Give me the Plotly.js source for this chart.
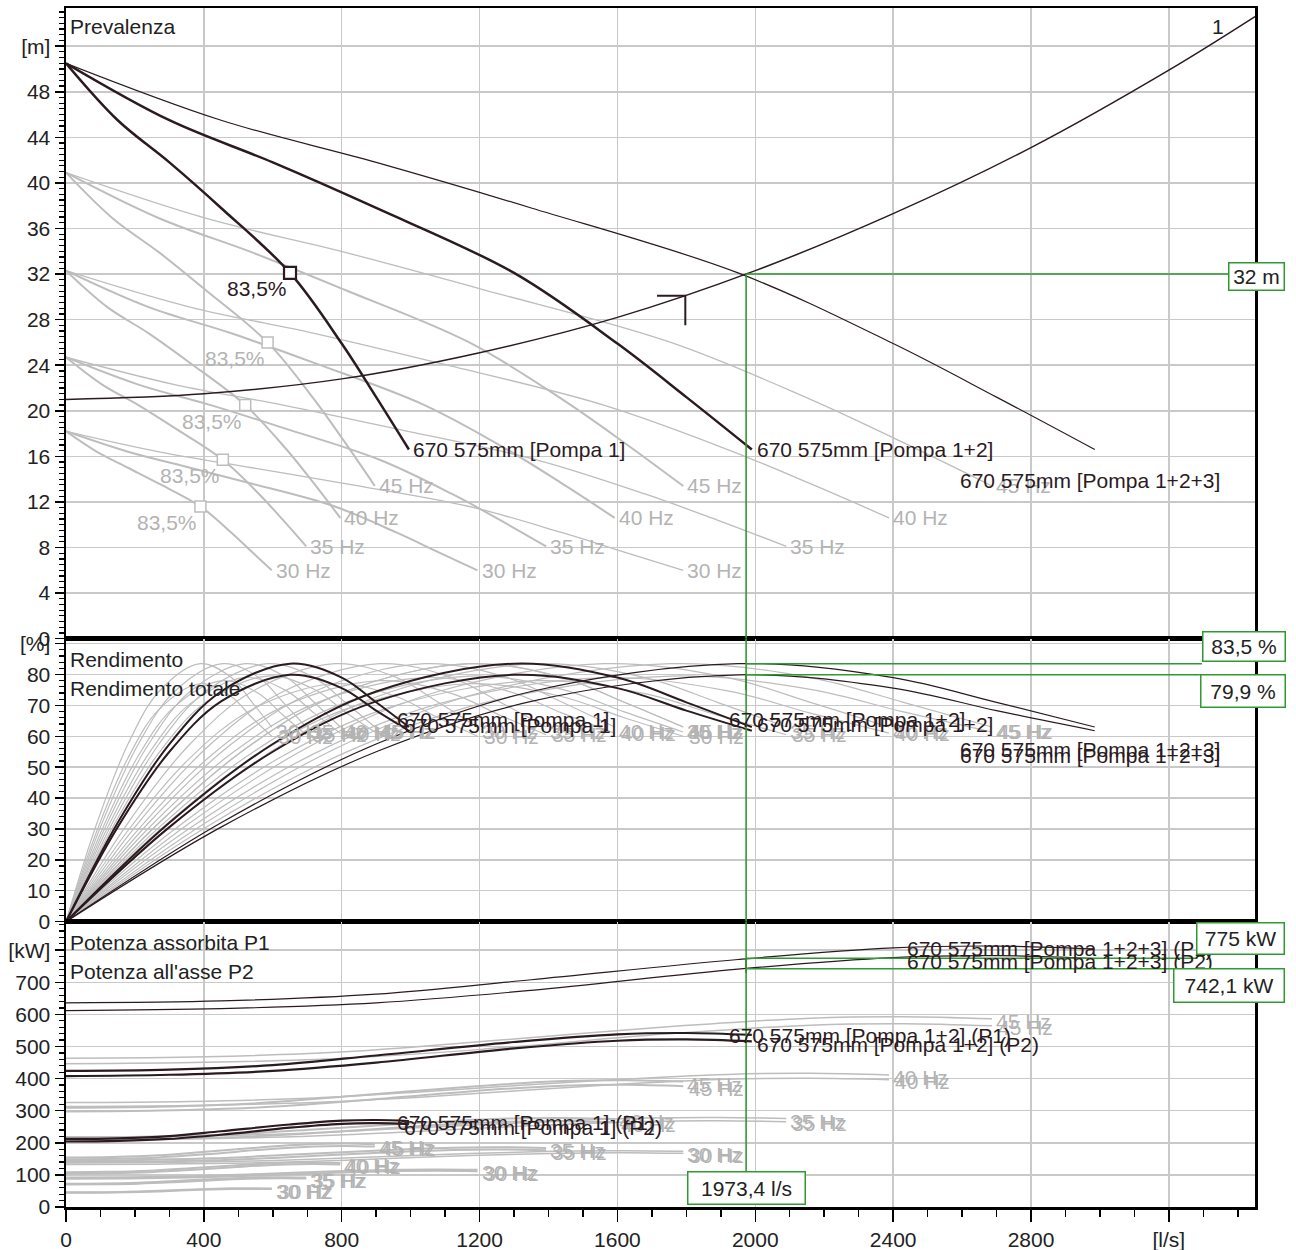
<!DOCTYPE html>
<html><head><meta charset="utf-8">
<script src="https://cdn.plot.ly/plotly-3.0.1.min.js"></script>
<style>body{margin:0;background:#fff}#chart{width:1296px;height:1250px}</style>
</head><body><div id="chart"></div>
<script>
// ---- Flow (l/s) for each configuration: pumps in parallel x speed ----
const Q_1p30 = [0, 90, 180, 270, 390, 480, 540, 597];
const Q_1p35 = [0, 105, 210, 315, 455, 560, 630, 697];
const Q_1p40 = [0, 120, 240, 360, 520, 640, 720, 796];
const Q_1p45 = [0, 135, 270, 405, 585, 720, 810, 896];
const Q_1p50 = [0, 150, 300, 450, 650, 800, 900, 995];
const Q_2p30 = [0, 180, 360, 540, 780, 960, 1080, 1194];
const Q_2p35 = [0, 210, 420, 630, 910, 1120, 1260, 1393];
const Q_2p40 = [0, 240, 480, 720, 1040, 1280, 1440, 1592];
const Q_2p45 = [0, 270, 540, 810, 1170, 1440, 1620, 1791];
const Q_2p50 = [0, 300, 600, 900, 1300, 1600, 1800, 1990];
const Q_3p30 = [0, 270, 540, 810, 1170, 1440, 1620, 1791];
const Q_3p35 = [0, 315, 630, 945, 1365, 1680, 1890, 2090];
const Q_3p40 = [0, 360, 720, 1080, 1560, 1920, 2160, 2388];
const Q_3p45 = [0, 405, 810, 1215, 1755, 2160, 2430, 2687];
const Q_3p50 = [0, 450, 900, 1350, 1950, 2400, 2700, 2985];

// ---- Prevalenza (m) ----
const H_30 = [18.2, 16.4, 15.0, 13.6, 11.6, 9.3, 7.6, 6.0];
const H_35 = [24.7, 22.3, 20.5, 18.5, 15.7, 12.7, 10.4, 8.1];
const H_40 = [32.3, 29.1, 26.8, 24.2, 20.5, 16.6, 13.6, 10.6];
const H_45 = [40.9, 36.9, 33.9, 30.6, 26.0, 21.0, 17.2, 13.4];
const H_50 = [50.5, 45.5, 41.8, 37.8, 32.1, 25.9, 21.2, 16.6];
// system curve "1"
const Q_sys = [0, 400, 800, 1200, 1600, 2000, 2400, 2800, 3200, 3450];
const H_sys = [21.0, 21.5, 22.8, 25.1, 28.2, 32.3, 37.3, 43.1, 49.9, 54.6];
// duty marker
const Q_mark = [1715, 1797, 1797];
const H_mark = [30.1, 30.1, 27.5];

// ---- Rendimento (%) ----
const ETA_pump = [0, 32, 57.5, 74.5, 83.5, 79, 71, 63];
const ETA_tot30 = [0, 29.5, 53.0, 68.7, 77.0, 72.8, 66.0, 60.0];
const ETA_tot35 = [0, 29.9, 53.7, 69.6, 78.0, 73.8, 66.8, 60.5];
const ETA_tot40 = [0, 30.3, 54.4, 70.5, 79.0, 74.7, 67.5, 61.0];
const ETA_tot45 = [0, 30.5, 54.7, 70.9, 79.5, 75.2, 67.9, 61.4];
const ETA_tot50 = [0, 30.6, 55.0, 71.3, 79.9, 75.6, 68.3, 61.8];

// ---- Potenza assorbita P1 (kW) ----
const P1_1p30 = [45.8, 46.2, 47.7, 51.0, 55.5, 58.1, 58.5, 57.9];
const P1_1p35 = [72.7, 73.4, 75.8, 80.9, 88.2, 92.3, 93.0, 91.9];
const P1_1p40 = [108.5, 109.6, 113.2, 120.8, 131.6, 137.7, 138.8, 137.2];
const P1_1p45 = [154.5, 156.0, 161.1, 172.0, 187.4, 196.1, 197.6, 195.4];
const P1_1p50 = [212, 214, 221, 236, 257, 269, 271, 268];
const P1_2p30 = [91.6, 92.4, 95.4, 102.0, 111.0, 116.2, 117.0, 115.8];
const P1_2p35 = [145.4, 146.8, 151.6, 161.8, 176.4, 184.6, 186.0, 183.8];
const P1_2p40 = [217.0, 219.2, 226.4, 241.6, 263.2, 275.4, 277.6, 274.4];
const P1_2p45 = [309.0, 312.0, 322.2, 344.0, 374.8, 392.2, 395.2, 390.8];
const P1_2p50 = [424, 428, 442, 472, 514, 538, 542, 536];
const P1_3p30 = [137.4, 138.6, 143.1, 153.0, 166.5, 174.3, 175.5, 173.7];
const P1_3p35 = [218.1, 220.2, 227.4, 242.7, 264.6, 276.9, 279.0, 275.7];
const P1_3p40 = [325.5, 328.8, 339.6, 362.4, 394.8, 413.1, 416.4, 411.6];
const P1_3p45 = [463.5, 468.0, 483.3, 516.0, 562.2, 588.3, 592.8, 586.2];
const P1_3p50 = [636, 642, 663, 708, 771, 807, 813, 804];
// ---- Potenza all'asse P2 (kW) ----
const P2_1p30 = [44.1, 44.5, 45.8, 48.6, 53.4, 55.9, 56.4, 55.7];
const P2_1p35 = [70.0, 70.7, 72.7, 77.2, 84.7, 88.8, 89.5, 88.5];
const P2_1p40 = [104.4, 105.5, 108.5, 115.2, 126.5, 132.6, 133.6, 132.1];
const P2_1p45 = [148.7, 150.2, 154.5, 164.0, 180.1, 188.8, 190.3, 188.1];
const P2_1p50 = [204, 206, 212, 225, 247, 259, 261, 258];
const P2_2p30 = [88.2, 89.0, 91.6, 97.2, 106.8, 111.8, 112.8, 111.4];
const P2_2p35 = [140.0, 141.4, 145.4, 154.4, 169.4, 177.6, 179.0, 177.0];
const P2_2p40 = [208.8, 211.0, 217.0, 230.4, 253.0, 265.2, 267.2, 264.2];
const P2_2p45 = [297.4, 300.4, 309.0, 328.0, 360.2, 377.6, 380.6, 376.2];
const P2_2p50 = [408, 412, 424, 450, 494, 518, 522, 516];
const P2_3p30 = [132.3, 133.5, 137.4, 145.8, 160.2, 167.7, 169.2, 167.1];
const P2_3p35 = [210.0, 212.1, 218.1, 231.6, 254.1, 266.4, 268.5, 265.5];
const P2_3p40 = [313.2, 316.5, 325.5, 345.6, 379.5, 397.8, 400.8, 396.3];
const P2_3p45 = [446.1, 450.6, 463.5, 492.0, 540.3, 566.4, 570.9, 564.3];
const P2_3p50 = [612, 618, 636, 675, 741, 777, 783, 774];

// ---- operating point ----
const OP_Q = 1973.4, OP_H = 32, OP_ETA = 83.5, OP_ETA_TOT = 79.9, OP_P1 = 775, OP_P2 = 742.1;

const FONT = '"Liberation Sans", Arial, sans-serif';
const DARK = '#2b1b1f', GREY = '#bdbdbd', GREYTXT = '#b3b3b3', GREEN = '#2f9a2f', GRID = '#c9c9c9';

const grey = [
  {n:1, hz:'30 Hz', q:Q_1p30, h:H_30, tot:ETA_tot30, p1:P1_1p30, p2:P2_1p30},
  {n:1, hz:'35 Hz', q:Q_1p35, h:H_35, tot:ETA_tot35, p1:P1_1p35, p2:P2_1p35},
  {n:1, hz:'40 Hz', q:Q_1p40, h:H_40, tot:ETA_tot40, p1:P1_1p40, p2:P2_1p40},
  {n:1, hz:'45 Hz', q:Q_1p45, h:H_45, tot:ETA_tot45, p1:P1_1p45, p2:P2_1p45},
  {n:2, hz:'30 Hz', q:Q_2p30, h:H_30, tot:ETA_tot30, p1:P1_2p30, p2:P2_2p30},
  {n:2, hz:'35 Hz', q:Q_2p35, h:H_35, tot:ETA_tot35, p1:P1_2p35, p2:P2_2p35},
  {n:2, hz:'40 Hz', q:Q_2p40, h:H_40, tot:ETA_tot40, p1:P1_2p40, p2:P2_2p40},
  {n:2, hz:'45 Hz', q:Q_2p45, h:H_45, tot:ETA_tot45, p1:P1_2p45, p2:P2_2p45},
  {n:3, hz:'30 Hz', q:Q_3p30, h:H_30, tot:ETA_tot30, p1:P1_3p30, p2:P2_3p30},
  {n:3, hz:'35 Hz', q:Q_3p35, h:H_35, tot:ETA_tot35, p1:P1_3p35, p2:P2_3p35},
  {n:3, hz:'40 Hz', q:Q_3p40, h:H_40, tot:ETA_tot40, p1:P1_3p40, p2:P2_3p40},
  {n:3, hz:'45 Hz', q:Q_3p45, h:H_45, tot:ETA_tot45, p1:P1_3p45, p2:P2_3p45}
];
const dark = [
  {n:1, name:'670 575mm [Pompa 1]', q:Q_1p50, h:H_50, tot:ETA_tot50, p1:P1_1p50, p2:P2_1p50},
  {n:2, name:'670 575mm [Pompa 1+2]', q:Q_2p50, h:H_50, tot:ETA_tot50, p1:P1_2p50, p2:P2_2p50},
  {n:3, name:'670 575mm [Pompa 1+2+3]', q:Q_3p50, h:H_50, tot:ETA_tot50, p1:P1_3p50, p2:P2_3p50}
];

function ln(x, y, xa, ya, color, width, shape) {
  return {x, y, xaxis: xa, yaxis: ya, type: 'scatter', mode: 'lines', hoverinfo: 'skip',
    line: {color, width, shape: shape || 'spline', smoothing: 1}};
}
const last = a => a[a.length - 1];
const traces = [];
const ann = [];
function lab(text, x, y, xr, yr, color, opt) {
  ann.push(Object.assign({text, x, y, xref: xr, yref: yr, showarrow: false, xanchor: 'left', yanchor: 'middle',
    font: {family: FONT, size: 21, color}}, opt || {}));
}

// grey curves
grey.forEach(c => {
  const w = c.n < 3 ? 2 : 1.3;
  traces.push(ln(c.q, c.h, 'x', 'y', GREY, w));
  traces.push(ln(c.q, ETA_pump, 'x2', 'y2', GREY, 1.2));
  traces.push(ln(c.q, c.tot, 'x2', 'y2', GREY, 1.2));
  traces.push(ln(c.q, c.p1, 'x3', 'y3', GREY, c.n < 3 ? 2 : 1.5));
  traces.push(ln(c.q, c.p2, 'x3', 'y3', GREY, c.n < 3 ? 2 : 1.5));
  lab(c.hz, last(c.q), last(c.h), 'x', 'y', GREYTXT, {xshift: 2});
  lab(c.hz, last(c.q), last(ETA_pump), 'x2', 'y2', GREYTXT, {xshift: 2, yshift: -4});
  lab(c.hz, last(c.q), last(c.tot), 'x2', 'y2', GREYTXT, {xshift: 4});
  lab(c.hz, last(c.q), last(c.p1), 'x3', 'y3', GREYTXT, {xshift: 2, yshift: -3});
  lab(c.hz, last(c.q), last(c.p2), 'x3', 'y3', GREYTXT, {xshift: 4, yshift: -2});
});
// BEP squares (single pump at each speed)
grey.filter(c => c.n === 1).forEach(c => {
  traces.push({x: [c.q[4]], y: [c.h[4]], xaxis: 'x', yaxis: 'y', type: 'scatter', mode: 'markers', hoverinfo: 'skip',
    marker: {symbol: 'square', size: 11, color: '#fff', line: {color: GREY, width: 1.5}}});
  lab('83,5%', c.q[4], c.h[4], 'x', 'y', GREYTXT, {xanchor: 'right', xshift: -1, yshift: -16});
});

// dark curves
dark.forEach(c => {
  const w = c.n < 3 ? 2.5 : 1.2;
  traces.push(ln(c.q, c.h, 'x', 'y', DARK, w));
  traces.push(ln(c.q, ETA_pump, 'x2', 'y2', DARK, c.n < 3 ? 2 : 1.2));
  traces.push(ln(c.q, c.tot, 'x2', 'y2', DARK, c.n < 3 ? 2 : 1.2));
  traces.push(ln(c.q, c.p1, 'x3', 'y3', DARK, c.n < 3 ? 2.2 : 1.2));
  traces.push(ln(c.q, c.p2, 'x3', 'y3', DARK, c.n < 3 ? 2.2 : 1.2));
});
traces.push({x: [Q_1p50[4]], y: [H_50[4]], xaxis: 'x', yaxis: 'y', type: 'scatter', mode: 'markers', hoverinfo: 'skip',
  marker: {symbol: 'square', size: 12, color: '#fff', line: {color: DARK, width: 2.2}}});
lab('83,5%', Q_1p50[4], H_50[4], 'x', 'y', DARK, {xanchor: 'right', xshift: -1, yshift: -16});

// system curve and marker
traces.push(ln(Q_sys, H_sys, 'x', 'y', DARK, 1.5));
traces.push(ln(Q_mark, H_mark, 'x', 'y', DARK, 2, 'linear'));
traces.push(ln([OP_Q, OP_Q], [OP_ETA_TOT, 75], 'x2', 'y2', DARK, 1.5, 'linear'));
traces.push(ln([OP_Q, OP_Q], [OP_P1, 730], 'x3', 'y3', DARK, 1.5, 'linear'));

// panel titles & curve labels
lab('Prevalenza', 5, 53.7, 'x', 'y', '#222');
lab('1', 3343, 53.7, 'x', 'y', '#222', {xanchor: 'center'});
lab(dark[0].name, last(Q_1p50), last(H_50), 'x', 'y', DARK, {xshift: 2});
lab(dark[1].name, last(Q_2p50), last(H_50), 'x', 'y', DARK, {xshift: 3});
lab(dark[2].name, 2588, 13.9, 'x', 'y', DARK);

lab('Rendimento', 5, 84.8, 'x2', 'y2', '#222');
lab('Rendimento totale', 5, 75.4, 'x2', 'y2', '#222');
lab(dark[0].name, 955, 65.4, 'x2', 'y2', DARK);
lab(dark[0].name, 975, 63.6, 'x2', 'y2', DARK);
lab(dark[1].name, 1918, 65.4, 'x2', 'y2', DARK);
lab(dark[1].name, 2000, 63.8, 'x2', 'y2', DARK);
lab(dark[2].name, 2588, 55.7, 'x2', 'y2', DARK);
lab(dark[2].name, 2588, 53.9, 'x2', 'y2', DARK);

lab('Potenza assorbita P1', 5, 823.6, 'x3', 'y3', '#222');
lab("Potenza all'asse P2", 5, 733, 'x3', 'y3', '#222');
lab(dark[0].name + ' (P1)', 955, 262, 'x3', 'y3', DARK);
lab(dark[0].name + ' (P2)', 975, 247, 'x3', 'y3', DARK);
lab(dark[1].name + ' (P1)', 1918, 533, 'x3', 'y3', DARK);
lab(dark[1].name + ' (P2)', 2000, 505, 'x3', 'y3', DARK);
lab(dark[2].name + ' (P1)', 2435, 805, 'x3', 'y3', DARK);
lab(dark[2].name + ' (P2)', 2435, 764, 'x3', 'y3', DARK);

// green value boxes
function box(text, x, y, xr, yr, w, h) {
  ann.push({text, x, y, xref: xr, yref: yr, showarrow: false, xanchor: 'left', yanchor: 'middle',
    width: w, height: h, bordercolor: GREEN, borderwidth: 1.5, borderpad: 0, bgcolor: '#fff',
    font: {family: FONT, size: 21, color: '#222'}});
}
box(OP_H + ' m', 3372, 31.8, 'x', 'y', 54, 26);
box('83,5 %', 3296, 89.0, 'x2', 'y2', 81, 28);
box('79,9 %', 3290, 74.6, 'x2', 'y2', 83, 31);
box('775 kW', 3279, 836, 'x3', 'y3', 86, 30);
box('742,1 kW', 3212, 689.6, 'x3', 'y3', 109, 32);
box('1973,4 l/s', 1802, 58.6, 'x3', 'y3', 116, 31);

const gl = {color: GREEN, width: 1.6};
const shapes = [
  {type: 'line', xref: 'x', yref: 'y', x0: OP_Q, x1: OP_Q, y0: 0, y1: OP_H, line: gl},
  {type: 'line', xref: 'x', yref: 'y', x0: OP_Q, x1: 3372, y0: OP_H, y1: OP_H, line: gl},
  {type: 'line', xref: 'x2', yref: 'y2', x0: OP_Q, x1: OP_Q, y0: 0, y1: 91.6, line: gl},
  {type: 'line', xref: 'x2', yref: 'y2', x0: OP_Q, x1: 3296, y0: OP_ETA, y1: OP_ETA, line: gl},
  {type: 'line', xref: 'x2', yref: 'y2', x0: OP_Q, x1: 3290, y0: OP_ETA_TOT, y1: OP_ETA_TOT, line: gl},
  {type: 'line', xref: 'x3', yref: 'y3', x0: OP_Q, x1: OP_Q, y0: 110, y1: 889, line: gl},
  {type: 'line', xref: 'x3', yref: 'y3', x0: OP_Q, x1: 3279, y0: OP_P1, y1: OP_P1, line: gl},
  {type: 'line', xref: 'x3', yref: 'y3', x0: OP_Q, x1: 3212, y0: OP_P2, y1: OP_P2, line: gl}
];

const tickfont = {family: FONT, size: 21, color: '#222'};
const xCommon = {range: [0, 3450], tick0: 0, dtick: 400, showgrid: true, gridcolor: GRID, gridwidth: 1.5,
  showline: true, linecolor: '#000', linewidth: 2.5, mirror: true, zeroline: false, fixedrange: true};
const yCommon = {tick0: 0, showgrid: true, gridcolor: GRID, gridwidth: 1.5, showline: true, linecolor: '#000',
  linewidth: 2.5, mirror: true, zeroline: false, ticks: 'outside', ticklen: 9, tickwidth: 1.5, tickcolor: '#000',
  tickfont, fixedrange: true};

const layout = {
  width: 1296, height: 1250, paper_bgcolor: '#fff', plot_bgcolor: '#fff', showlegend: false,
  margin: {l: 66, r: 41, t: 8, b: 43},
  font: {family: FONT, size: 21, color: '#222'},
  xaxis: Object.assign({}, xCommon, {anchor: 'y', showticklabels: false, ticks: ''}),
  xaxis2: Object.assign({}, xCommon, {anchor: 'y2', showticklabels: false, ticks: ''}),
  xaxis3: Object.assign({}, xCommon, {anchor: 'y3', ticks: 'outside', ticklen: 12, tickwidth: 1.5, tickcolor: '#000',
    minor: {dtick: 100, tick0: 0, ticks: 'outside', ticklen: 7, tickwidth: 1.5, tickcolor: '#000', showgrid: false},
    tickfont, labelalias: {'3200': '[l/s]'}}),
  yaxis: Object.assign({}, yCommon, {domain: [0.474, 1], anchor: 'x', range: [0, 55.35], dtick: 4,
    minor: {dtick: 0.5, tick0: 0, ticks: 'outside', ticklen: 5, tickwidth: 1.2, tickcolor: '#000', showgrid: false},
    labelalias: {'52': '[m]'}}),
  yaxis2: Object.assign({}, yCommon, {domain: [0.238, 0.474], anchor: 'x2', range: [0, 91.6], dtick: 10,
    minor: {dtick: 2, tick0: 0, ticks: 'outside', ticklen: 5, tickwidth: 1.2, tickcolor: '#000', showgrid: false},
    labelalias: {'90': '[%]'}}),
  yaxis3: Object.assign({}, yCommon, {domain: [0, 0.238], anchor: 'x3', range: [0, 889], dtick: 100,
    minor: {dtick: 20, tick0: 0, ticks: 'outside', ticklen: 5, tickwidth: 1.2, tickcolor: '#000', showgrid: false},
    labelalias: {'800': '[kW]'}}),
  annotations: ann,
  shapes
};

Plotly.newPlot('chart', traces, layout, {staticPlot: true, displayModeBar: false});
</script>
</body></html>
